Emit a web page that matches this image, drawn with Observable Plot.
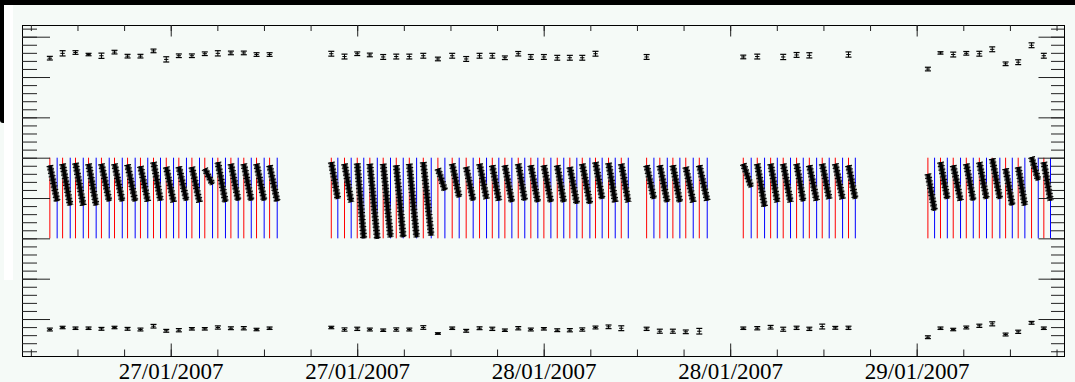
<!DOCTYPE html>
<html>
<head>
<meta charset="utf-8">
<script src="https://cdn.jsdelivr.net/npm/d3@7"></script>
<script src="https://cdn.jsdelivr.net/npm/@observablehq/plot@0.6"></script>
<style>
  html, body { margin: 0; padding: 0; background: #f5faf7; }
  #wrap { position: relative; width: 1075px; height: 382px; overflow: hidden; background: #f5faf7; }
  #chart svg { display: block; }
  #topbar { position: absolute; left: 0; top: 0; width: 1075px; height: 5px; background: #000; }
  #leftbar { position: absolute; left: 0; top: 0; width: 4px; height: 123px; background: #000; border-bottom-left-radius: 3px; }
  #leftwhite { position: absolute; left: 4px; top: 5px; width: 9px; height: 275px; background: #fff; }
</style>
</head>
<body>
<div id="wrap">
  <div id="leftwhite"></div>
  <div id="chart"></div>
  <div id="topbar"></div>
  <div id="leftbar"></div>
</div>
<script>
// ---- time reference: hours are counted from 27/01/2007 00:00 ----
const BASE_DATE = "2007-01-27T00:00:00Z";
const xDomainHours = [-9.57, 57.48];
const yDomain = [-0.917, 7.29];

// tick labels (major ticks every 12 h)
const labelHours = [0, 12, 24, 36, 48];
const dateLabels = ["27/01/2007", "27/01/2007", "28/01/2007", "28/01/2007", "29/01/2007"];

// cycle start (red lines) and cycle end (blue lines), in hours
const cycleStartHours = [
  -7.81, -6.99, -6.16, -5.32, -4.49, -3.65, -2.81, -1.98, -1.14, -0.32, 0.49, 1.33, 2.16, 3.00, 3.84, 4.67, 5.49, 6.33,
  10.30, 11.15, 11.97, 12.78, 13.64, 14.48, 15.32, 16.22, 17.16, 18.08, 18.98, 19.84, 20.66, 21.47, 22.33, 23.14, 23.98, 24.84, 25.65, 26.45, 27.30, 28.14, 28.96,
  30.59, 31.44, 32.28, 33.11, 33.98,
  36.81, 37.71, 38.57, 39.38, 40.24, 41.06, 41.89, 42.73, 43.58,
  48.69, 49.50, 50.32, 51.16, 52.00, 52.83, 53.69, 54.50, 55.36, 56.15
];
const cycleEndHours = [
  -7.34, -6.50, -5.66, -4.83, -3.99, -3.15, -2.32, -1.51, -0.69, 0.15, 0.98, 1.82, 2.66, 3.49, 4.31, 5.15, 5.98, 6.82,
  10.72, 11.58, 12.39, 13.26, 14.11, 14.93, 15.79, 16.73, 17.61, 18.53, 19.43, 20.29, 21.08, 21.92, 22.75, 23.59, 24.43, 25.26, 26.10, 26.94, 27.73, 28.57, 29.41,
  31.06, 31.92, 32.73, 33.59, 34.49,
  37.32, 38.18, 39.00, 39.85, 40.67, 41.53, 42.34, 43.20, 44.02,
  49.12, 49.94, 50.79, 51.61, 52.46, 53.32, 54.12, 54.93, 55.79, 56.58
];
// level of the black series at the start and at the end of each cycle
const cycleStartLevel = [
  3.82, 3.86, 3.88, 3.86, 3.86, 3.86, 3.84, 3.80, 3.90, 3.78, 3.79, 3.78, 3.74, 3.90, 3.86, 3.86, 3.86, 3.82,
  3.90, 3.86, 3.87, 3.86, 3.86, 3.82, 3.86, 3.90, 3.74, 3.86, 3.78, 3.86, 3.82, 3.82, 3.86, 3.82, 3.82, 3.82, 3.78, 3.86, 3.90, 3.88, 3.86,
  3.82, 3.82, 3.82, 3.78, 3.82,
  3.86, 3.86, 3.86, 3.86, 3.86, 3.82, 3.86, 3.86, 3.82,
  3.61, 3.90, 3.82, 3.86, 3.90, 3.99, 3.74, 3.78, 4.03, 3.90
];
const cycleEndLevel = [
  2.93, 2.83, 2.83, 2.83, 2.93, 2.93, 2.93, 2.93, 2.95, 2.91, 2.95, 2.91, 3.35, 2.91, 2.95, 2.95, 2.95, 2.93,
  2.99, 2.91, 2.01, 2.00, 2.04, 2.04, 2.04, 2.08, 3.20, 3.03, 2.95, 2.99, 2.95, 2.91, 2.95, 2.91, 2.91, 2.91, 2.87, 2.87, 2.99, 2.91, 2.91,
  2.99, 2.91, 2.91, 2.91, 2.95,
  3.28, 2.80, 2.91, 2.91, 2.93, 2.95, 2.99, 2.99, 2.99,
  2.70, 2.99, 2.95, 2.95, 2.99, 2.99, 2.83, 2.83, 3.45, 2.95
];

// upper series
const upperHours = [
  -7.81, -6.99, -6.16, -5.32, -4.49, -3.65, -2.81, -1.98, -1.14, -0.32, 0.49, 1.33, 2.16, 3.00, 3.84, 4.67, 5.49, 6.33,
  10.30, 11.15, 11.97, 12.78, 13.64, 14.48, 15.32, 16.22, 17.16, 18.08, 18.98, 19.84, 20.66, 21.47, 22.33, 23.14, 23.98, 24.84, 25.65, 26.45, 27.30,
  30.59,
  36.81, 37.71, 39.38, 40.24, 41.06, 43.58,
  48.69, 49.50, 50.32, 51.16, 52.00, 52.83, 53.69, 54.50, 55.36, 56.15
];
const upperValue = [
  6.48, 6.60, 6.62, 6.57, 6.54, 6.63, 6.53, 6.53, 6.66, 6.45, 6.54, 6.54, 6.59, 6.60, 6.61, 6.61, 6.57, 6.57,
  6.59, 6.52, 6.59, 6.56, 6.51, 6.52, 6.52, 6.54, 6.46, 6.54, 6.46, 6.54, 6.54, 6.49, 6.59, 6.51, 6.51, 6.49, 6.49, 6.49, 6.59,
  6.51,
  6.51, 6.52, 6.51, 6.56, 6.55, 6.57,
  6.21, 6.61, 6.57, 6.60, 6.59, 6.70, 6.34, 6.38, 6.80, 6.54
];
const upperError = [
  0.045, 0.065, 0.045, 0.030, 0.065, 0.045, 0.045, 0.045, 0.045, 0.065, 0.045, 0.045, 0.045, 0.065, 0.045, 0.045, 0.045, 0.045,
  0.060, 0.060, 0.045, 0.045, 0.060, 0.060, 0.060, 0.060, 0.045, 0.060, 0.060, 0.060, 0.060, 0.045, 0.055, 0.060, 0.060, 0.060, 0.060, 0.060, 0.060,
  0.060,
  0.045, 0.060, 0.065, 0.060, 0.065, 0.065,
  0.045, 0.030, 0.060, 0.045, 0.060, 0.060, 0.045, 0.060, 0.060, 0.060
];

// lower series
const lowerHours = cycleStartHours.slice();
const lowerValue = [
  -0.248, -0.198, -0.216, -0.216, -0.231, -0.198, -0.231, -0.248, -0.166, -0.280, -0.265, -0.231, -0.231, -0.198, -0.216, -0.216, -0.248, -0.216,
  -0.198, -0.248, -0.231, -0.248, -0.265, -0.248, -0.248, -0.198, -0.347, -0.216, -0.280, -0.216, -0.231, -0.265, -0.216, -0.248, -0.231, -0.265, -0.265, -0.248, -0.198, -0.181, -0.216,
  -0.231, -0.290, -0.290, -0.305, -0.290,
  -0.216, -0.216, -0.191, -0.241, -0.206, -0.231, -0.174, -0.206, -0.206,
  -0.439, -0.216, -0.248, -0.198, -0.156, -0.107, -0.372, -0.305, -0.082, -0.216
];
const lowerError = [
  0.035, 0.030, 0.030, 0.030, 0.035, 0.030, 0.035, 0.035, 0.045, 0.035, 0.040, 0.030, 0.030, 0.040, 0.035, 0.040, 0.030, 0.030,
  0.030, 0.040, 0.040, 0.035, 0.030, 0.040, 0.035, 0.045, 0.020, 0.030, 0.035, 0.035, 0.040, 0.030, 0.040, 0.035, 0.030, 0.035, 0.040, 0.040, 0.035, 0.045, 0.060,
  0.040, 0.050, 0.050, 0.045, 0.070,
  0.030, 0.040, 0.045, 0.050, 0.040, 0.040, 0.060, 0.035, 0.040,
  0.035, 0.030, 0.030, 0.035, 0.040, 0.050, 0.035, 0.040, 0.035, 0.030
];

// ---- build ----
const base = new Date(BASE_DATE).getTime();
const T = h => new Date(base + h * 3600e3);

const cycles = cycleStartHours.map((h, i) => ({
  t0: T(h), t1: T(cycleEndHours[i]), v0: cycleStartLevel[i], v1: cycleEndLevel[i]
}));
const upper = upperHours.map((h, i) => ({t: T(h), v: upperValue[i], e: upperError[i]}));
const lower = lowerHours.map((h, i) => ({t: T(h), v: lowerValue[i], e: lowerError[i]}));
const points = upper.concat(lower);

const W = 1075, H = 382, mL = 22, mR = 11, mT = 25, mB = 26;
const fw = W - mL - mR, fh = H - mT - mB;

const xDomain = xDomainHours.map(T);
const xMinor = d3.utcHour.every(3).range(xDomain[0], xDomain[1]);
const xMajor = labelHours.map(T);
const yMinor = d3.range(-4, 37).map(i => i / 5);
const yMajor = d3.range(0, 8);

const hbar = {draw(ctx, size) { const r = Math.sqrt(size / Math.PI); ctx.moveTo(-r, 0); ctx.lineTo(r, 0); }};
const tickColor = "#222";

const chart = Plot.plot({
  width: W, height: H,
  marginLeft: mL, marginRight: mR, marginTop: mT, marginBottom: mB,
  x: {type: "utc", domain: xDomain, axis: null},
  y: {type: "linear", domain: yDomain, axis: null},
  style: {background: "transparent", overflow: "visible"},
  marks: [
    // cycle boundaries
    Plot.ruleX(cycles, {x: "t0", y1: 2, y2: 4, stroke: "#ff0000", strokeWidth: 1}),
    Plot.ruleX(cycles, {x: "t1", y1: 2, y2: 4, stroke: "#0000ff", strokeWidth: 1}),
    // sawtooth series
    Plot.link(cycles, {x1: "t0", y1: "v0", x2: "t1", y2: "v1", stroke: "#777", strokeWidth: 6, strokeLinecap: "butt"}),
    Plot.link(cycles, {x1: "t0", y1: "v0", x2: "t1", y2: "v1", stroke: "#000", strokeWidth: 3.5, strokeLinecap: "butt"}),
    Plot.link(cycles, {x1: "t0", y1: "v0", x2: "t1", y2: "v1", stroke: "#000", strokeWidth: 7, strokeDasharray: "1 2.5", strokeLinecap: "butt"}),
    // upper and lower series with error bars
    Plot.link(points, {x1: "t", x2: "t", y1: d => d.v - d.e, y2: d => d.v + d.e, stroke: "#000", strokeWidth: 1}),
    Plot.dot(points, {x: "t", y: d => d.v - d.e, symbol: hbar, r: 3, stroke: "#000", fill: "none", strokeWidth: 1.2}),
    Plot.dot(points, {x: "t", y: d => d.v + d.e, symbol: hbar, r: 3, stroke: "#000", fill: "none", strokeWidth: 1.2}),
    Plot.dot(points, {x: "t", y: "v", symbol: hbar, r: 2.2, stroke: "#000", fill: "none", strokeWidth: 1}),
    // frame
    Plot.frame({stroke: "#000", strokeWidth: 1}),
    // x ticks (bottom and top, inward)
    Plot.ruleX(xMinor, {x: d => d, insetTop: fh - 6.5, stroke: tickColor}),
    Plot.ruleX(xMajor, {x: d => d, insetTop: fh - 12.5, stroke: tickColor}),
    Plot.ruleX(xMinor, {x: d => d, insetBottom: fh - 6, stroke: tickColor}),
    Plot.ruleX(xMajor, {x: d => d, insetBottom: fh - 11.5, stroke: tickColor}),
    // y ticks (left and right, inward)
    Plot.ruleY(yMinor, {y: d => d, insetRight: fw - 15, stroke: tickColor}),
    Plot.ruleY(yMajor, {y: d => d, insetRight: fw - 28, stroke: tickColor}),
    Plot.ruleY(yMinor, {y: d => d, insetLeft: fw - 13, stroke: tickColor}),
    Plot.ruleY(yMajor, {y: d => d, insetLeft: fw - 25.5, stroke: tickColor}),
    // date labels
    Plot.text(xMajor.map((t, i) => ({t, s: dateLabels[i]})), {
      x: "t", text: "s", frameAnchor: "bottom", lineAnchor: "bottom", dy: 22,
      fontSize: 23, fontFamily: "'Liberation Serif', 'Times New Roman', serif", fill: "#000"
    })
  ]
});
document.getElementById("chart").appendChild(chart);
</script>
</body>
</html>
